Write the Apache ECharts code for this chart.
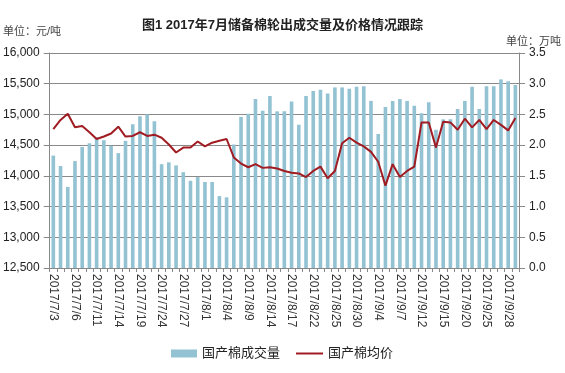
<!DOCTYPE html>
<html>
<head>
<meta charset="utf-8">
<script src="https://cdn.jsdelivr.net/npm/echarts@6/dist/echarts.min.js"></script>
<style>html,body{margin:0;padding:0;background:#fff;}#c{width:565px;height:373px;}</style>
</head>
<body>
<div id="c"></div>
<script>
const categories = ["2017/7/3","2017/7/4","2017/7/5","2017/7/6","2017/7/7","2017/7/10","2017/7/11","2017/7/12","2017/7/13","2017/7/14",
"2017/7/17","2017/7/18","2017/7/19","2017/7/20","2017/7/21","2017/7/24","2017/7/25","2017/7/26","2017/7/27","2017/7/28",
"2017/7/31","2017/8/1","2017/8/2","2017/8/3","2017/8/4","2017/8/7","2017/8/8","2017/8/9","2017/8/10","2017/8/11",
"2017/8/14","2017/8/15","2017/8/16","2017/8/17","2017/8/18","2017/8/21","2017/8/22","2017/8/23","2017/8/24","2017/8/25",
"2017/8/28","2017/8/29","2017/8/30","2017/8/31","2017/9/1","2017/9/4","2017/9/5","2017/9/6","2017/9/7","2017/9/8",
"2017/9/11","2017/9/12","2017/9/13","2017/9/14","2017/9/15","2017/9/18","2017/9/19","2017/9/20","2017/9/21","2017/9/22",
"2017/9/25","2017/9/26","2017/9/27","2017/9/28","2017/9/29"];
const volume = [1.83,1.66,1.32,1.74,1.97,2.03,2.13,2.08,1.99,1.87,
2.07,2.34,2.47,2.50,2.39,1.69,1.72,1.67,1.56,1.42,
1.48,1.40,1.40,1.17,1.15,2.01,2.46,2.51,2.75,2.56,
2.80,2.55,2.55,2.71,2.33,2.80,2.88,2.90,2.84,2.94,
2.94,2.92,2.95,2.96,2.72,2.18,2.62,2.72,2.75,2.72,
2.64,2.52,2.70,2.25,2.42,2.42,2.59,2.72,2.95,2.59,
2.96,2.96,3.07,3.04,2.98];
const price = [14760,14910,15010,14790,14810,14710,14600,14640,14690,14800,
14640,14650,14710,14650,14670,14620,14510,14380,14460,14460,
14560,14480,14540,14570,14600,14300,14200,14140,14190,14130,
14140,14120,14080,14050,14040,13980,14080,14150,13960,14080,
14530,14620,14540,14480,14390,14230,13840,14190,13980,14080,
14150,14870,14870,14460,14880,14870,14750,14930,14790,14910,
14760,14910,14830,14740,14940];
const leftTicks = {min:12500, max:16000, interval:500};
const rightTicks = {min:0, max:3.5, interval:0.5};

const FONT = '"Liberation Sans","Noto Sans CJK SC",sans-serif';
const chart = echarts.init(document.getElementById('c'));
chart.setOption({
  animation:false,
  textStyle:{fontFamily:FONT},
  title:{text:'图1 2017年7月储备棉轮出成交量及价格情况跟踪', left:'center', top:14,
    textStyle:{fontSize:13, fontWeight:'bold', color:'#222', fontFamily:FONT}},
  graphic:[
    {type:'text', left:3, top:26, style:{text:'单位：元/吨', fontSize:11, fill:'#444', fontFamily:FONT}},
    {type:'text', right:4, top:36, style:{text:'单位：万吨', fontSize:11, fill:'#444', fontFamily:FONT}}
  ],
  legend:[
    {left:166, bottom:8, itemWidth:26, itemHeight:8,
     textStyle:{fontSize:13, color:'#222', fontFamily:FONT},
     data:[{name:'国产棉成交量', icon:'rect'}]},
    {left:291, bottom:8, itemWidth:27, itemHeight:2,
     textStyle:{fontSize:13, color:'#222', fontFamily:FONT},
     data:[{name:'国产棉均价', icon:'rect'}]}
  ],
  grid:{left:49, right:46, top:53, bottom:105},
  xAxis:{type:'category', data:categories, boundaryGap:true,
    axisLine:{lineStyle:{color:'#888'}},
    axisTick:{show:true, interval:0, length:4, lineStyle:{color:'#888'}},
    axisLabel:{interval:2, rotate:-90, fontSize:12, color:'#333', margin:6, fontFamily:FONT}},
  yAxis:[
    {type:'value', min:leftTicks.min, max:leftTicks.max, interval:leftTicks.interval,
     axisLine:{show:true, lineStyle:{color:'#888'}},
     axisTick:{show:true, length:6, lineStyle:{color:'#888'}},
     axisLabel:{fontSize:12, color:'#222', margin:10, fontFamily:FONT},
     splitLine:{show:true, lineStyle:{color:'#8a8a8a', width:1}}},
    {type:'value', min:rightTicks.min, max:rightTicks.max, interval:rightTicks.interval,
     axisLine:{show:true, lineStyle:{color:'#888'}},
     axisTick:{show:true, length:6, lineStyle:{color:'#888'}},
     axisLabel:{fontSize:12, color:'#222', margin:10, fontFamily:FONT,
       formatter:v=>v.toFixed(1)},
     splitLine:{show:false}}
  ],
  series:[
    {name:'国产棉成交量', type:'bar', yAxisIndex:1, data:volume, barWidth:'50%',
     itemStyle:{color:'#93c2d3'}},
    {name:'国产棉均价', type:'line', yAxisIndex:0, data:price, symbol:'none',
     lineStyle:{color:'#a01c22', width:2}, itemStyle:{color:'#a01c22'}}
  ]
});
</script>
</body>
</html>
